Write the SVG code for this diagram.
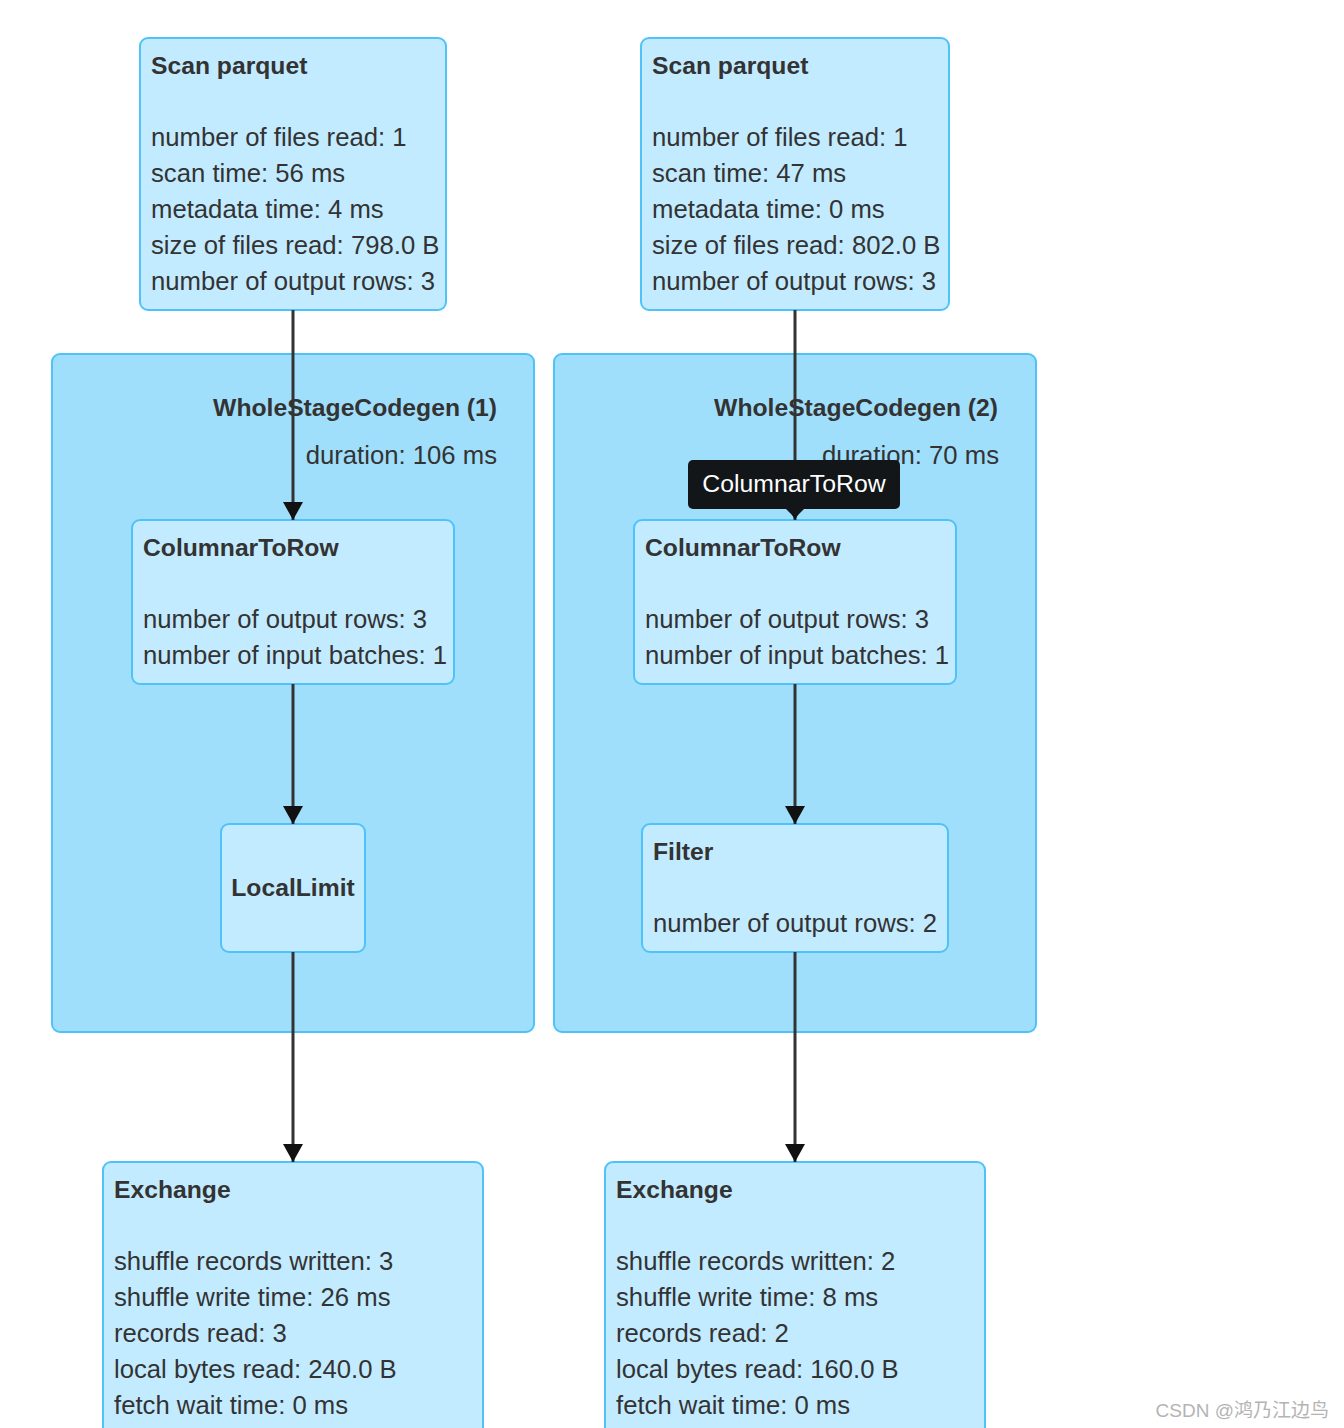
<svg xmlns="http://www.w3.org/2000/svg" width="1344" height="1428" viewBox="0 0 1344 1428">
<style>
.node{fill:#C3EBFF;stroke:#4FC3F7;stroke-width:2}
.cluster{fill:#A0DFFC;stroke:#4FC3F7;stroke-width:2}
.t{font-family:"Liberation Sans",Arial,sans-serif;font-size:25.7px;fill:#333333}
.b{font-weight:bold;font-size:24.7px}
.edge{stroke:#333333;stroke-width:3;fill:none}
</style>
<defs>
<marker id="arr" markerUnits="userSpaceOnUse" markerWidth="20" markerHeight="20" viewBox="0 0 20 20" refX="20" refY="10" orient="auto">
<path d="M2,0 L20,10 L2,20 Z" fill="#111111"/>
</marker>
</defs>
<rect width="1344" height="1428" fill="#ffffff"/>

<g id="cluster1">
<rect class="cluster" x="52" y="354" width="482" height="678" rx="8"/>
<text class="t b" x="497" y="416" text-anchor="end">WholeStageCodegen (1)</text>
<text class="t" x="497" y="464" text-anchor="end">duration: 106 ms</text>
</g>
<g id="cluster2">
<rect class="cluster" x="554" y="354" width="482" height="678" rx="8"/>
<text class="t b" x="998" y="416" text-anchor="end">WholeStageCodegen (2)</text>
<text class="t" x="999" y="464" text-anchor="end">duration: 70 ms</text>
</g>

<g id="scan1">
<rect class="node" x="140" y="38" width="306" height="272" rx="8"/>
<text class="t b" x="151" y="74">Scan parquet</text>
<text class="t" x="151" y="146">number of files read: 1</text>
<text class="t" x="151" y="182">scan time: 56 ms</text>
<text class="t" x="151" y="218">metadata time: 4 ms</text>
<text class="t" x="151" y="254">size of files read: 798.0 B</text>
<text class="t" x="151" y="290">number of output rows: 3</text>
</g>
<g id="scan2">
<rect class="node" x="641" y="38" width="308" height="272" rx="8"/>
<text class="t b" x="652" y="74">Scan parquet</text>
<text class="t" x="652" y="146">number of files read: 1</text>
<text class="t" x="652" y="182">scan time: 47 ms</text>
<text class="t" x="652" y="218">metadata time: 0 ms</text>
<text class="t" x="652" y="254">size of files read: 802.0 B</text>
<text class="t" x="652" y="290">number of output rows: 3</text>
</g>

<g id="c2r1">
<rect class="node" x="132" y="520" width="322" height="164" rx="8"/>
<text class="t b" x="143" y="556">ColumnarToRow</text>
<text class="t" x="143" y="628">number of output rows: 3</text>
<text class="t" x="143" y="664">number of input batches: 1</text>
</g>
<g id="c2r2">
<rect class="node" x="634" y="520" width="322" height="164" rx="8"/>
<text class="t b" x="645" y="556">ColumnarToRow</text>
<text class="t" x="645" y="628">number of output rows: 3</text>
<text class="t" x="645" y="664">number of input batches: 1</text>
</g>

<g id="locallimit">
<rect class="node" x="221" y="824" width="144" height="128" rx="8"/>
<text class="t b" x="293" y="896" text-anchor="middle">LocalLimit</text>
</g>
<g id="filter">
<rect class="node" x="642" y="824" width="306" height="128" rx="8"/>
<text class="t b" x="653" y="860">Filter</text>
<text class="t" x="653" y="932">number of output rows: 2</text>
</g>

<g id="exchange1">
<rect class="node" x="103" y="1162" width="380" height="290" rx="8"/>
<text class="t b" x="114" y="1198">Exchange</text>
<text class="t" x="114" y="1270">shuffle records written: 3</text>
<text class="t" x="114" y="1306">shuffle write time: 26 ms</text>
<text class="t" x="114" y="1342">records read: 3</text>
<text class="t" x="114" y="1378">local bytes read: 240.0 B</text>
<text class="t" x="114" y="1414">fetch wait time: 0 ms</text>
</g>
<g id="exchange2">
<rect class="node" x="605" y="1162" width="380" height="290" rx="8"/>
<text class="t b" x="616" y="1198">Exchange</text>
<text class="t" x="616" y="1270">shuffle records written: 2</text>
<text class="t" x="616" y="1306">shuffle write time: 8 ms</text>
<text class="t" x="616" y="1342">records read: 2</text>
<text class="t" x="616" y="1378">local bytes read: 160.0 B</text>
<text class="t" x="616" y="1414">fetch wait time: 0 ms</text>
</g>

<g id="connectors">
<line class="edge" x1="293" y1="310" x2="293" y2="520" marker-end="url(#arr)"/>
<line class="edge" x1="293" y1="684" x2="293" y2="824" marker-end="url(#arr)"/>
<line class="edge" x1="293" y1="952" x2="293" y2="1162" marker-end="url(#arr)"/>
<line class="edge" x1="795" y1="310" x2="795" y2="520" marker-end="url(#arr)"/>
<line class="edge" x1="795" y1="684" x2="795" y2="824" marker-end="url(#arr)"/>
<line class="edge" x1="795" y1="952" x2="795" y2="1162" marker-end="url(#arr)"/>
</g>

<g id="tooltip">
<rect x="688" y="460" width="212" height="49" rx="5" fill="#121619"/>
<path d="M785,508 L805,508 L795,518 Z" fill="#121619"/>
<text x="794" y="492" text-anchor="middle" font-family="'Liberation Sans',Arial,sans-serif" font-size="24.8" fill="#ffffff">ColumnarToRow</text>
</g>

<text x="1329" y="1417" text-anchor="end" font-family="'Liberation Sans','Noto Sans CJK SC',sans-serif" font-size="19" fill="#b4b4b4">CSDN @鸿乃江边鸟</text>
</svg>
